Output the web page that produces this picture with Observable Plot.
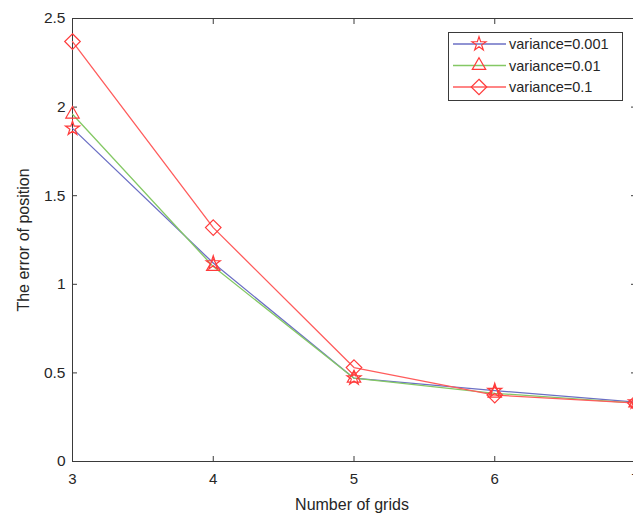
<!DOCTYPE html>
<html><head><meta charset="utf-8">
<script src="https://cdn.jsdelivr.net/npm/d3@7"></script>
<script src="https://cdn.jsdelivr.net/npm/@observablehq/plot@0.6"></script>
<style>
body{margin:0;background:#fff;font-family:"Liberation Sans",Arial,sans-serif}
#wrap{position:relative;width:633px;height:514px;overflow:hidden}
</style>
</head><body><div id="wrap"></div>
<script>
const grids = [3, 4, 5, 6, 7];
const v001 = [1.88, 1.12, 0.47, 0.40, 0.335];
const v01 = [1.96, 1.10, 0.47, 0.385, 0.33];
const v1 = [2.37, 1.32, 0.53, 0.375, 0.33];
const seriesNames = ["variance=0.001", "variance=0.01", "variance=0.1"];
const lineColors = ["#6b6fc4", "#84c864", "#ff5c5c"];
const markerColor = "#ff3b3b";
const symbols = ["star", "triangle2", "diamond2"];
const xTicks = [3, 4, 5, 6, 7];
const yTicks = [0, 0.5, 1, 1.5, 2, 2.5];
const xLabel = "Number of grids";
const yLabel = "The error of position";

const allSeries = [v001, v01, v1];
const data = allSeries.flatMap((vals, i) => vals.map((v, j) => ({grid: grids[j], value: v, series: seriesNames[i]})));
const radii = {"star": 4.4, "triangle2": 6.4, "diamond2": 7};
const FONT = "'Liberation Sans', Arial, sans-serif";

const marks = [
  Plot.frame({stroke: "#3a3a3a", strokeWidth: 1}),
  Plot.axisX({ticks: xTicks, tickSize: -5, tickPadding: 17, stroke: "#3a3a3a", fontSize: 15, fill: "#262626", label: null, tickFormat: d => String(d)}),
  Plot.axisX({ticks: xTicks, anchor: "top", tickSize: -5, text: null, stroke: "#3a3a3a", label: null}),
  Plot.axisY({ticks: yTicks, tickSize: -5, tickPadding: 12, stroke: "#3a3a3a", fontSize: 15.5, fill: "#262626", label: null, tickFormat: d => String(d)}),
  Plot.axisY({ticks: yTicks, anchor: "right", tickSize: -5, text: null, stroke: "#3a3a3a", label: null}),
];
seriesNames.forEach((name, i) => {
  const d = data.filter(r => r.series === name);
  marks.push(Plot.line(d, {x: "grid", y: "value", stroke: lineColors[i], strokeWidth: 1.3}));
});
seriesNames.forEach((name, i) => {
  const d = data.filter(r => r.series === name);
  marks.push(Plot.dot(d, {x: "grid", y: "value", symbol: () => symbols[i], r: radii[symbols[i]], stroke: markerColor, fill: "none", strokeWidth: 1.2}));
});

const chart = Plot.plot({
  width: 633, height: 514,
  marginLeft: 72, marginRight: -2, marginTop: 18, marginBottom: 53,
  style: {fontFamily: FONT, background: "#fff", overflow: "visible"},
  x: {domain: [3, 7], label: null},
  y: {domain: [0, 2.5], label: null},
  symbol: {domain: symbols, range: symbols},
  marks
});
document.getElementById("wrap").appendChild(chart);

const svg = d3.select(chart);
svg.append("text").attr("x", 352).attr("y", 510).attr("text-anchor", "middle")
  .attr("font-size", 16).attr("fill", "#262626").attr("font-family", FONT).text(xLabel);
svg.append("text").attr("transform", "translate(29,240) rotate(-90)").attr("text-anchor", "middle")
  .attr("font-size", 16).attr("fill", "#262626").attr("font-family", FONT).text(yLabel);

// legend
const lg = svg.append("g");
lg.append("rect").attr("x", 448.5).attr("y", 32.5).attr("width", 174).attr("height", 68)
  .attr("fill", "#fff").attr("stroke", "#3a3a3a").attr("stroke-width", 1);
const rowY = [44, 65.5, 87];
const d3sym = {"star": d3.symbolStar, "triangle2": d3.symbolTriangle2, "diamond2": d3.symbolDiamond2};
seriesNames.forEach((name, i) => {
  const y = rowY[i];
  lg.append("line").attr("x1", 453).attr("x2", 506).attr("y1", y).attr("y2", y)
    .attr("stroke", lineColors[i]).attr("stroke-width", 1.3);
  const r = radii[symbols[i]];
  lg.append("path").attr("d", d3.symbol(d3sym[symbols[i]], Math.PI * r * r)())
    .attr("transform", `translate(479,${y})`).attr("fill", "none").attr("stroke", markerColor).attr("stroke-width", 1.2);
  lg.append("text").attr("x", 509).attr("y", y).attr("dy", "0.35em").attr("font-size", 14.5)
    .attr("text-anchor", "start").attr("fill", "#262626").attr("font-family", FONT).text(name);
});
</script>
</body></html>
